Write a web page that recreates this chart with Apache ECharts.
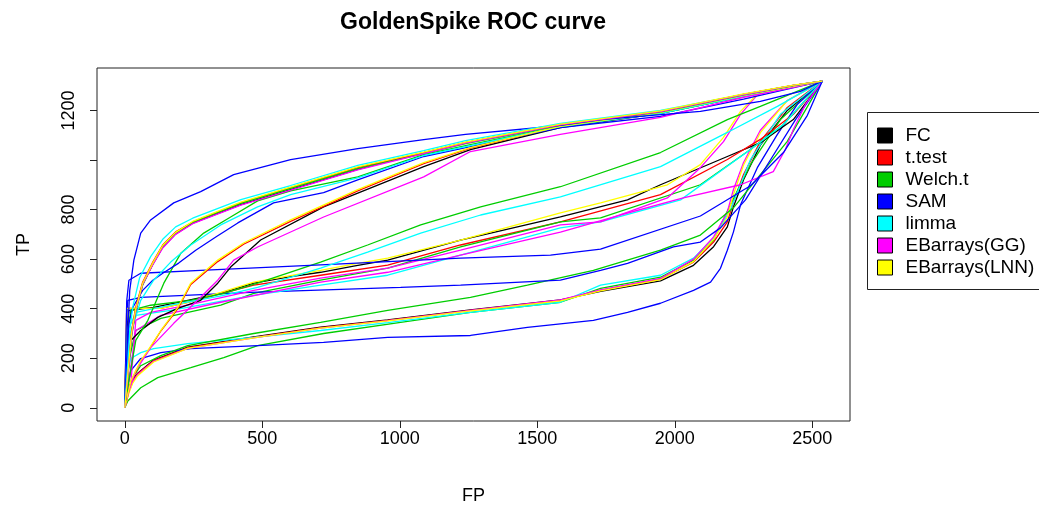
<!DOCTYPE html>
<html><head><meta charset="utf-8">
<script src="https://cdn.jsdelivr.net/npm/echarts@6/dist/echarts.min.js"></script>
<style>html,body{margin:0;padding:0;background:#fff}#c{width:1039px;height:511px}</style>
</head><body><div id="c"></div>
<script>
// ---- categories / styling keys ----
const methods = ['FC','t.test','Welch.t','SAM','limma','EBarrays(GG)','EBarrays(LNN)'];
const methodColors = ['#000000','#FF0000','#00CD00','#0000FF','#00FFFF','#FF00FF','#FFFF00'];
const xTicks = [0,500,1000,1500,2000,2500];
const yTicks = [0,200,400,600,800,1000,1200];
const yTickLabels = [0,200,400,600,800,1200];

// ---- ROC curves (FP, TP) ----
// group 1 (best)
const G1_SAM_FP = [0,11,18,33,58,94,178,276,396,603,847,1087,1239,1548,1730,2093,2311,2457,2536];
const G1_SAM_TP = [0,312,474,596,705,758,827,872,941,1001,1046,1082,1103,1135,1163,1196,1236,1277,1318];
const G1_FP = [0,15,25,40,65,102,138,185,247,422,603,847,1087,1239,1584,1948,2250,2431,2536];
const G1_red_TP = [0,191,312,406,507,588,657,710,750,827,888,969,1030,1070,1143,1196,1265,1301,1318];
const G1_cyan_FP = [0,11,18,29,54,94,138,185,247,422,603,847,1087,1239,1584,1948,2250,2431,2536];
const G1_cyan_TP = [0,180,312,406,525,610,680,730,765,840,897,978,1038,1078,1148,1200,1265,1301,1318];
const G1_green_TP = [0,170,290,390,495,580,650,705,748,825,885,965,1026,1066,1140,1194,1263,1300,1318];
const G1_yellow_TP = [0,185,305,400,503,585,655,708,752,830,890,972,1032,1072,1145,1198,1267,1302,1318];
const G1_black_TP = [0,180,300,395,500,580,648,702,745,820,880,962,1030,1070,1143,1196,1265,1301,1318];
const G1_magenta_TP = [0,175,295,392,498,578,645,700,743,818,878,960,1026,1068,1142,1195,1264,1301,1318];
// group 2 / 3
const G2_blue_FP = [0,11,15,29,65,102,138,196,258,331,411,541,723,847,1087,1257,1584,1948,2250,2536];
const G2_blue_TP = [0,191,341,405,474,515,543,584,636,689,746,827,868,920,1014,1054,1131,1176,1245,1318];
const G2_green_FP = [0,15,40,84,142,204,287,385,483,603,847,1087,1257,1584,1948,2250,2536];
const G2_green_TP = [0,109,272,353,503,624,705,770,835,875,932,1022,1062,1136,1188,1257,1318];
const G2_cyan_FP = [0,11,25,58,105,167,240,349,483,603,847,1087,1257,1584,1948,2250,2536];
const G2_cyan_TP = [0,150,312,434,515,588,657,738,811,860,928,1018,1058,1135,1188,1257,1318];
const G3_FP = [0,22,58,84,131,193,240,338,432,603,847,1087,1257,1584,1948,2250,2536];
const G3_yellow_TP = [0,109,191,231,312,405,503,596,665,758,880,989,1050,1136,1192,1261,1318];
const G3_red_TP = [0,105,185,228,310,400,498,590,660,752,875,985,1048,1135,1192,1261,1318];
const G3_black_FP = [0,11,22,58,120,193,276,338,385,494,723,1087,1257,1584,1948,2250,2536];
const G3_black_TP = [0,150,272,312,365,401,434,503,568,677,811,973,1042,1131,1188,1257,1318];
const G3_magenta_FP = [0,15,40,94,178,276,338,396,483,723,1087,1257,1584,1948,2250,2431,2536];
const G3_magenta_TP = [0,69,150,243,341,446,515,596,649,770,932,1034,1103,1172,1253,1293,1318];
// middle groups
const M_ugreen_FP = [0,11,22,94,240,360,483,712,883,1076,1294,1584,1948,2191,2311,2536];
const M_ugreen_TP = [0,312,393,414,434,462,503,588,657,738,811,892,1030,1163,1216,1318];
const M_ucyan_FP = [0,11,40,167,360,483,712,883,1076,1294,1584,1948,2191,2373,2536];
const M_ucyan_TP = [0,312,385,414,454,486,564,628,705,778,851,973,1111,1216,1318];
const M_black_FP = [0,7,15,105,229,349,469,592,712,832,956,1221,1584,1828,1948,2191,2311,2431,2536];
const M_black_TP = [0,312,393,405,434,462,503,527,547,572,596,677,770,839,900,1014,1070,1163,1318];
const M_yellow_FP = [0,7,131,229,349,469,592,712,832,956,1221,1584,1730,1973,2093,2177,2239,2300,2536];
const M_yellow_TP = [0,401,401,426,466,507,531,555,580,604,677,787,827,900,981,1091,1196,1265,1318];
const M_magenta_FP = [0,11,22,40,94,229,469,712,956,1221,1584,1730,1973,2093,2177,2239,2311,2536];
const M_magenta_TP = [0,89,97,353,385,414,474,523,564,636,738,750,847,969,1074,1184,1277,1318];
const M_red_FP = [0,7,131,229,469,712,956,1221,1584,1948,2191,2311,2431,2536];
const M_red_TP = [0,401,401,426,495,535,576,657,750,860,1002,1083,1184,1318];
const M_green_FP = [0,15,40,131,349,469,712,956,1221,1584,1730,2093,2275,2395,2536];
const M_green_TP = [0,191,312,361,414,462,515,564,649,750,766,900,1042,1143,1318];
const M_cyan_FP = [0,11,40,167,469,712,956,1221,1584,1730,2021,2275,2395,2536];
const M_cyan_TP = [0,272,373,393,454,495,535,616,726,750,839,1042,1143,1318];
const M_magenta2_FP = [0,11,40,131,349,712,956,1221,1584,1802,2031,2239,2358,2402,2431,2475,2536];
const M_magenta2_TP = [0,77,312,373,426,507,547,616,709,778,847,900,953,1042,1123,1224,1318];
const M_blue1_FP = [0,7,15,58,276,712,1221,1548,1730,2093,2275,2395,2482,2536];
const M_blue1_TP = [0,430,515,543,555,577,604,616,640,774,896,1030,1180,1318];
const M_blue2_FP = [0,7,11,58,458,1003,1221,1584,1730,1828,1995,2093,2166,2257,2348,2439,2536];
const M_blue2_TP = [0,352,434,446,466,486,495,515,555,583,649,669,726,839,1001,1163,1318];
// lower group (worst)
const L_blue_FP = [0,11,22,58,131,240,483,723,956,1257,1464,1704,1828,1948,2068,2130,2166,2191,2213,2239,2300,2373,2446,2536];
const L_blue_TP = [0,89,150,199,223,239,251,264,284,292,325,353,385,422,474,507,563,636,709,819,969,1103,1225,1318];
const L_FP = [0,15,29,47,105,229,469,712,956,1257,1584,1730,1948,2068,2141,2191,2213,2250,2311,2409,2536];
const L_red_TP = [0,69,109,138,191,243,284,324,353,393,434,474,519,588,669,750,831,941,1075,1212,1318];
const L_yellow_TP = [0,60,100,130,185,240,282,322,351,391,432,472,517,590,680,770,860,980,1110,1240,1318];
const L_black_TP = [0,75,115,140,193,245,286,326,355,395,436,470,512,575,650,730,810,920,1060,1200,1318];
const L_magenta_TP = [0,65,105,135,188,240,282,322,352,393,436,476,522,600,690,790,880,990,1120,1240,1318];
const L_cyan_FP = [0,11,22,58,105,229,469,712,956,1257,1584,1730,1948,2068,2141,2202,2275,2384,2536];
const L_cyan_TP = [0,150,199,223,239,259,284,312,344,385,426,495,535,604,685,799,1001,1184,1318];
const L_green1_FP = [0,11,58,120,240,360,483,723,1003,1257,1584,1730,1948,2068,2141,2202,2275,2384,2536];
const L_green1_TP = [0,28,81,122,162,203,251,300,345,385,426,482,527,596,677,819,981,1163,1318];
const L_green2_FP = [0,11,33,58,131,229,469,712,956,1257,1464,1704,1948,2093,2213,2311,2409,2536];
const L_green2_TP = [0,69,130,170,211,251,300,345,393,446,495,555,636,697,807,941,1075,1318];

const curves = [
  ['FC', L_FP, L_black_TP], ['t.test', L_FP, L_red_TP], ['Welch.t', L_green1_FP, L_green1_TP],
  ['SAM', L_blue_FP, L_blue_TP], ['limma', L_cyan_FP, L_cyan_TP], ['EBarrays(GG)', L_FP, L_magenta_TP],
  ['EBarrays(LNN)', L_FP, L_yellow_TP], ['Welch.t', L_green2_FP, L_green2_TP],
  ['FC', M_black_FP, M_black_TP], ['t.test', M_red_FP, M_red_TP], ['Welch.t', M_green_FP, M_green_TP],
  ['SAM', M_blue2_FP, M_blue2_TP], ['limma', M_cyan_FP, M_cyan_TP], ['EBarrays(GG)', M_magenta2_FP, M_magenta2_TP],
  ['EBarrays(GG)', M_magenta_FP, M_magenta_TP], ['EBarrays(LNN)', M_yellow_FP, M_yellow_TP],
  ['Welch.t', M_ugreen_FP, M_ugreen_TP], ['SAM', M_blue1_FP, M_blue1_TP], ['limma', M_ucyan_FP, M_ucyan_TP],
  ['FC', G3_black_FP, G3_black_TP], ['t.test', G3_FP, G3_red_TP], ['Welch.t', G2_green_FP, G2_green_TP],
  ['SAM', G2_blue_FP, G2_blue_TP], ['limma', G2_cyan_FP, G2_cyan_TP], ['EBarrays(GG)', G3_magenta_FP, G3_magenta_TP],
  ['EBarrays(LNN)', G3_FP, G3_yellow_TP],
  ['FC', G1_FP, G1_black_TP], ['t.test', G1_FP, G1_red_TP], ['Welch.t', G1_FP, G1_green_TP],
  ['SAM', G1_SAM_FP, G1_SAM_TP], ['limma', G1_cyan_FP, G1_cyan_TP], ['EBarrays(GG)', G1_FP, G1_magenta_TP],
  ['EBarrays(LNN)', G1_FP, G1_yellow_TP]
];

const colorOf = {};
methods.forEach((m, i) => colorOf[m] = methodColors[i]);
const FONT = '"Liberation Sans", Arial, Helvetica, sans-serif';
const plain = v => String(v);

const chart = echarts.init(document.getElementById('c'), null, {renderer: 'canvas'});
chart.setOption({
  animation: false,
  backgroundColor: '#ffffff',
  grid: {left: 97, right: 189, top: 68, bottom: 90, show: true, borderColor: '#222', borderWidth: 1, backgroundColor: 'transparent', containLabel: false, outerBoundsMode: 'none'},
  graphic: [
    {type: 'text', x: 473, y: 11, style: {text: 'GoldenSpike ROC curve', align: 'center', verticalAlign: 'top', font: 'bold 23px ' + FONT, fill: '#000'}},
    {type: 'rect', shape: {x: 867.5, y: 112.5, width: 190, height: 177}, style: {fill: 'none', stroke: '#222', lineWidth: 1}, z: 10}
  ],
  legend: {
    data: methods, orient: 'vertical', left: 877, top: 126, padding: 0, itemGap: 3,
    itemWidth: 15, itemHeight: 15, icon: 'rect', selectedMode: false,
    itemStyle: {borderColor: '#000', borderWidth: 1},
    textStyle: {fontSize: 19, color: '#000', fontFamily: FONT, padding: [0, 0, 0, 8]}
  },
  xAxis: {
    type: 'value', min: -101, max: 2637, name: 'FP', nameLocation: 'middle', nameGap: 66,
    nameTextStyle: {fontSize: 18, color: '#000', fontFamily: FONT},
    axisLine: {show: false, onZero: false}, splitLine: {show: false},
    axisTick: {show: true, length: 7, customValues: xTicks, lineStyle: {color: '#222'}},
    axisLabel: {customValues: xTicks, formatter: plain, fontSize: 18, color: '#000', fontFamily: FONT, margin: 9}
  },
  yAxis: {
    type: 'value', min: -53, max: 1371, name: 'TP', nameLocation: 'middle', nameGap: 64, nameRotate: 90,
    nameTextStyle: {fontSize: 18, color: '#000', fontFamily: FONT},
    axisLine: {show: false, onZero: false}, splitLine: {show: false},
    axisTick: {show: true, length: 7, customValues: yTicks, lineStyle: {color: '#222'}},
    axisLabel: {customValues: yTickLabels, formatter: plain, rotate: 90, fontSize: 18, color: '#000', fontFamily: FONT, margin: 19}
  },
  series: curves.map(([m, fp, tp]) => ({
    type: 'line', name: m, data: fp.map((x, i) => [x, tp[i]]),
    showSymbol: false, symbol: 'none', silent: true, animation: false,
    lineStyle: {width: 1.3, color: colorOf[m]}, itemStyle: {color: colorOf[m]},
    emphasis: {disabled: true}
  }))
});
</script></body></html>
